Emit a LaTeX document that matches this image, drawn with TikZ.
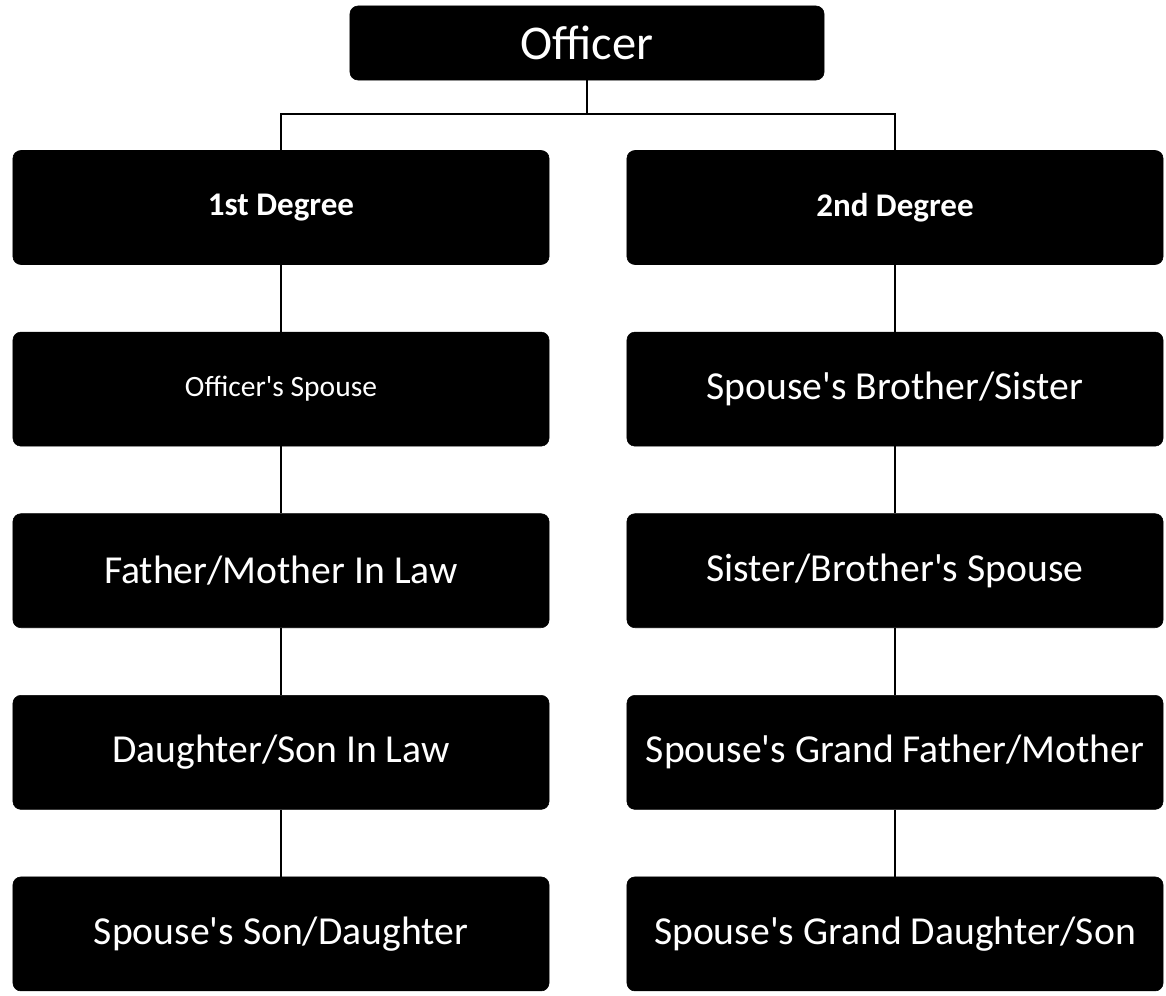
\documentclass[tikz,border=0pt]{standalone}
\usepackage{fontspec}
\setmainfont{Carlito}
\usetikzlibrary{positioning}

\newcommand{\apos}{\textquotesingle}

\tikzset{
    kinbox/.style = {fill=black, draw=black, rounded corners=0.2cm, text=white,
        minimum width=13.4cm, minimum height=2.85cm, inner sep=0pt,
        font=\fontsize{28.2}{33}\selectfont},
    smalltext/.style = {font=\fontsize{21}{25}\selectfont},
    degreetext/.style = {font=\fontsize{23.5}{28}\selectfont\bfseries},
    link/.style = {line width=1.3pt}
}

\begin{document}
\begin{tikzpicture}[x=0.025cm, y=-0.025cm, node distance=1.675cm]

    \useasboundingbox (0,0) rectangle (1166,995);

    \node[kinbox, minimum width=11.85cm, minimum height=1.85cm, font=\fontsize{34.5}{40}\selectfont] (officer) at (587,43) {Officer};

    % first degree
    \node[kinbox, degreetext] (first) at (281,207.5) {1st Degree};
    \node[kinbox, smalltext, below=of first] (ospouse) {Officer\apos s Spouse};
    \node[kinbox, below=of ospouse] (inlaw) {Father/Mother In Law};
    \node[kinbox, below=of inlaw] (soninlaw) {Daughter/Son In Law};
    \node[kinbox, below=of soninlaw] (stepchild) {Spouse\apos s Son/Daughter};

    % second degree
    \node[kinbox, degreetext] (second) at (895,207.5) {2nd Degree};
    \node[kinbox, below=of second] (sibling) {Spouse\apos s Brother/Sister};
    \node[kinbox, below=of sibling] (sibspouse) {Sister/Brother\apos s Spouse};
    \node[kinbox, below=of sibspouse] (grandparent) {Spouse\apos s Grand Father/Mother};
    \node[kinbox, below=of grandparent] (grandchild) {Spouse\apos s Grand Daughter/Son};

    \coordinate (fork) at (officer.south |- 0,114);
    \draw[link] (officer.south) -- (fork);
    \draw[link] (first.north) |- (fork) -| (second.north);

    \draw[link] (first) -- (ospouse) -- (inlaw) -- (soninlaw) -- (stepchild);
    \draw[link] (second) -- (sibling) -- (sibspouse) -- (grandparent) -- (grandchild);

\end{tikzpicture}
\end{document}
